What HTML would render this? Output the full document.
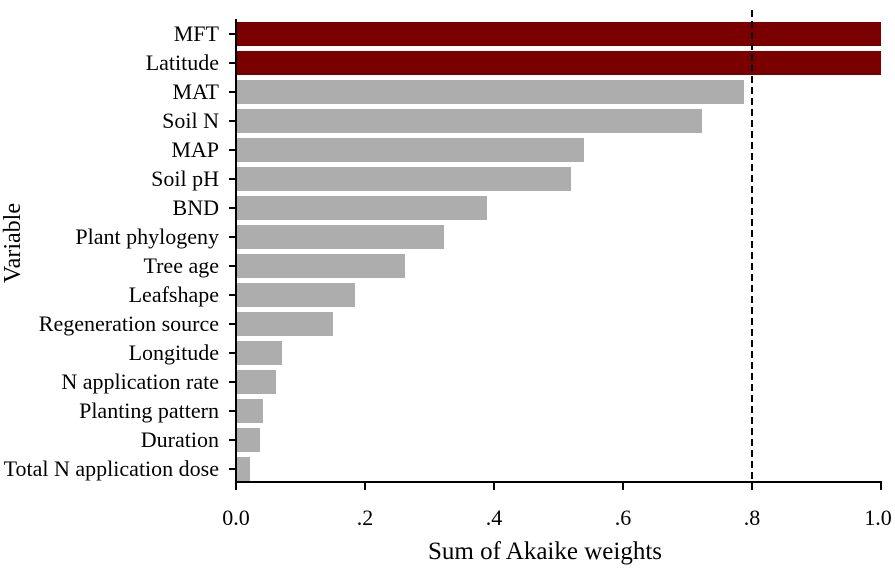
<!DOCTYPE html>
<html><head><style>body{margin:0;background:#fff}</style></head><body>
<svg width="895" height="566" xmlns="http://www.w3.org/2000/svg" font-family="Liberation Serif, serif" font-size="22" fill="#000">
<g>
<rect x="236" y="22" width="645" height="24" fill="#7a0000"/>
<rect x="236" y="51" width="645" height="24" fill="#7a0000"/>
<rect x="236" y="80" width="508" height="24" fill="#adadad"/>
<rect x="236" y="109" width="466" height="24" fill="#adadad"/>
<rect x="236" y="138" width="348" height="24" fill="#adadad"/>
<rect x="236" y="167" width="335" height="24" fill="#adadad"/>
<rect x="236" y="196" width="251" height="24" fill="#adadad"/>
<rect x="236" y="225" width="208" height="24" fill="#adadad"/>
<rect x="236" y="254" width="169" height="24" fill="#adadad"/>
<rect x="236" y="283" width="119" height="24" fill="#adadad"/>
<rect x="236" y="312" width="97" height="24" fill="#adadad"/>
<rect x="236" y="341" width="46" height="24" fill="#adadad"/>
<rect x="236" y="370" width="40" height="24" fill="#adadad"/>
<rect x="236" y="399" width="27" height="24" fill="#adadad"/>
<rect x="236" y="428" width="24" height="24" fill="#adadad"/>
<rect x="236" y="457" width="14" height="24" fill="#adadad"/>
</g>
<g stroke="#000" stroke-width="2">
<line x1="229" x2="236" y1="34" y2="34"/><line x1="229" x2="236" y1="63" y2="63"/>
<line x1="229" x2="236" y1="92" y2="92"/><line x1="229" x2="236" y1="121" y2="121"/>
<line x1="229" x2="236" y1="150" y2="150"/><line x1="229" x2="236" y1="179" y2="179"/>
<line x1="229" x2="236" y1="208" y2="208"/><line x1="229" x2="236" y1="237" y2="237"/>
<line x1="229" x2="236" y1="266" y2="266"/><line x1="229" x2="236" y1="295" y2="295"/>
<line x1="229" x2="236" y1="324" y2="324"/><line x1="229" x2="236" y1="353" y2="353"/>
<line x1="229" x2="236" y1="382" y2="382"/><line x1="229" x2="236" y1="411" y2="411"/>
<line x1="229" x2="236" y1="440" y2="440"/><line x1="229" x2="236" y1="469" y2="469"/>
<line x1="236" x2="236" y1="482" y2="490"/><line x1="365" x2="365" y1="482" y2="490"/>
<line x1="494" x2="494" y1="482" y2="490"/><line x1="623" x2="623" y1="482" y2="490"/>
<line x1="752" x2="752" y1="482" y2="490"/><line x1="881" x2="881" y1="482" y2="490"/>
</g>
<g text-anchor="end">
<text x="219" y="41">MFT</text>
<text x="219" y="70">Latitude</text>
<text x="219" y="99">MAT</text>
<text x="219" y="128">Soil N</text>
<text x="219" y="157">MAP</text>
<text x="219" y="186">Soil pH</text>
<text x="219" y="215">BND</text>
<text x="219" y="244">Plant phylogeny</text>
<text x="219" y="273">Tree age</text>
<text x="219" y="302">Leafshape</text>
<text x="219" y="331">Regeneration source</text>
<text x="219" y="360">Longitude</text>
<text x="219" y="389">N application rate</text>
<text x="219" y="418">Planting pattern</text>
<text x="219" y="447">Duration</text>
<text x="219" y="476">Total N application dose</text>
</g>
<g text-anchor="middle">
<text x="236" y="525">0.0</text>
<text x="365" y="525">.2</text>
<text x="494" y="525">.4</text>
<text x="623" y="525">.6</text>
<text x="752" y="525">.8</text>
<text x="878" y="525">1.0</text>
</g>
<line x1="236" y1="19" x2="236" y2="483" stroke="#000" stroke-width="2"/>
<line x1="235" y1="482" x2="882" y2="482" stroke="#000" stroke-width="2"/>
<line x1="752" y1="10" x2="752" y2="482" stroke="#000" stroke-width="2" stroke-dasharray="7,4"/>
<text x="545" y="559" text-anchor="middle" font-size="25">Sum of Akaike weights</text>
<text transform="translate(20,243) rotate(-90)" text-anchor="middle" font-size="24">Variable</text>
</svg>
</body></html>
